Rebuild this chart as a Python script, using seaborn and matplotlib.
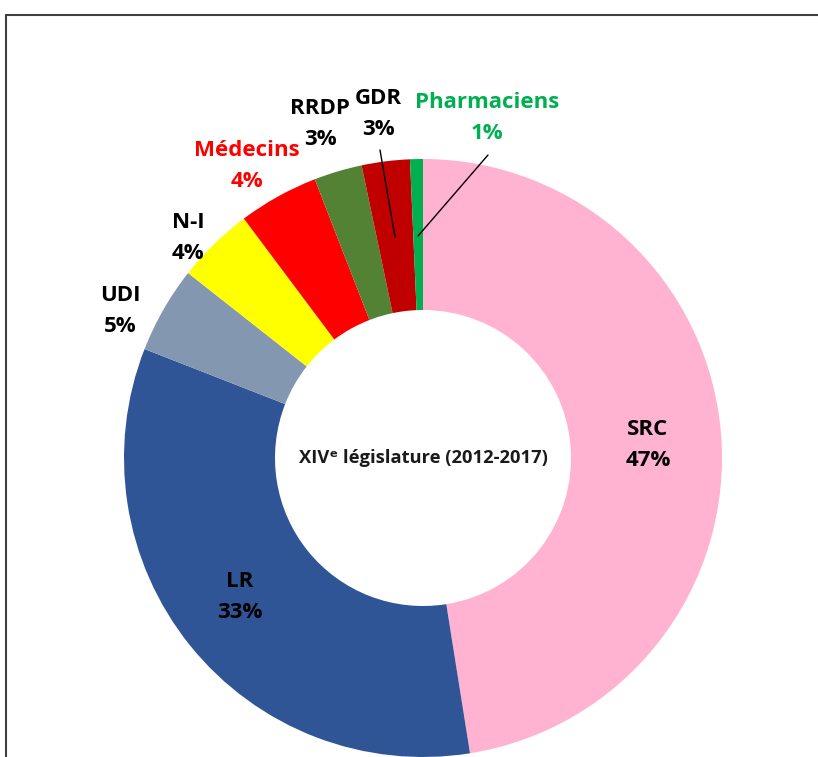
import matplotlib
matplotlib.use("Agg")
import matplotlib.pyplot as plt
import seaborn as sns

# seats per group, XIVe législature
groups = ["SRC", "LR", "UDI", "N-I", "Médecins", "RRDP", "GDR", "Pharmaciens"]
seats = [274, 193, 27, 24, 25, 15, 15, 4]
colors = ["#FFB3D1", "#2F5597", "#8497B0", "#FFFF00", "#FF0000",
          "#548235", "#C00000", "#00B050"]
label_colors = ["black", "black", "black", "black", "#FF0000",
                "black", "black", "#00B050"]

W, H = 818, 757
sns.set_theme(style="white")
plt.rcParams["font.family"] = ["Open Sans", "DejaVu Sans"]

fig = plt.figure(figsize=(W / 100, H / 100), dpi=100)
ax = fig.add_axes([0, 0, 1, 1])

cx, cy, r = 423, H - 458, 299
ax.pie(seats, colors=sns.color_palette(colors), startangle=90,
       counterclock=False, center=(cx, cy), radius=r, frame=True,
       wedgeprops=dict(width=r - 148, linewidth=0))
ax.set_xlim(0, W)
ax.set_ylim(0, H)
ax.set_aspect("equal")
ax.set_axis_off()

# label positions (pixels from top-left)
label_pos = [(648, 445), (240, 597), (120, 311), (188, 238),
             (247, 166), (320, 124), (378, 114), (487, 118)]
total = sum(seats)
for g, v, (x, y), c in zip(groups, seats, label_pos, label_colors):
    ax.text(x, H - y, f"{g}\n{100 * v / total:.0f}%", ha="center", va="center",
            fontsize=16, fontweight="bold", color=c, linespacing=1.6)

# leader lines for thin slices
ax.plot([380, 395], [H - 150, H - 237], color="black", lw=1)
ax.plot([488, 418], [H - 155, H - 236], color="black", lw=1)

ax.text(cx, cy, "XIVᵉ législature (2012-2017)", ha="center", va="center",
        fontsize=13.2, fontweight="bold", color="#1a1a1a")

# chart area border
ax.plot([6, W], [H - 15, H - 15], color="#404040", lw=1.5)
ax.plot([6, 6], [H - 15, 0], color="#404040", lw=1.5)

fig.savefig("out.png", dpi=100)
